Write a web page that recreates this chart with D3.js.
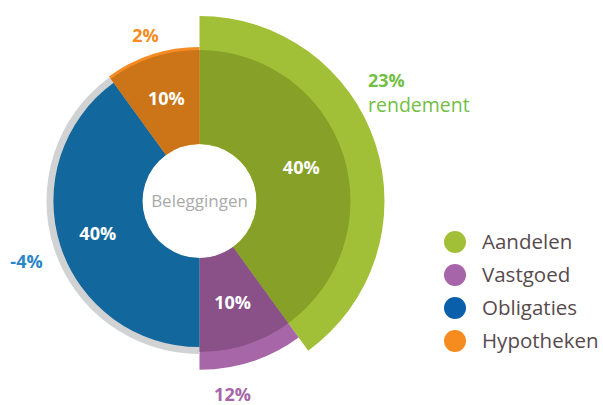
<!DOCTYPE html>
<html>
<head>
<meta charset="utf-8">
<script src="https://cdn.jsdelivr.net/npm/d3@7"></script>
<style>
  body { margin: 0; background: #fff; }
  svg { font-family: "Open Sans", sans-serif; }
</style>
</head>
<body>
<svg id="chart" width="603" height="405"></svg>
<script>
// data
var categories = ["Aandelen", "Vastgoed", "Obligaties", "Hypotheken"];
var shares = [40, 10, 40, 10];      // allocation %
var returns = [23, 12, -4, 2];      // rendement %

var darkColors = ["#87a128", "#8a5189", "#12679c", "#cc7418"];
var lightColors = ["#a2c037", "#a666a7", "#d1d2d4", "#f58b22"];
var legendColors = ["#a2c037", "#a665a8", "#0a5fab", "#f68b1f"];
var labelColors = ["#72bf44", "#a666a7", "#2a86c8", "#f58b22"];

var svg = d3.select("#chart");
var cx = 199.5, cy = 201;
var holeR = 57, baseR = 151;

var rScale = d3.scaleLinear().domain([0, 23]).range([baseR, 185]);

var data = categories.map((c, i) => ({ name: c, share: shares[i], ret: returns[i], i: i }));

var pie = d3.pie().sort(null).value(d => d.share);
var arcs = pie(data);

var g = svg.append("g").attr("transform", `translate(${cx},${cy})`);

// outer (return) rings
g.selectAll("path.outer")
  .data(arcs)
  .enter()
  .append("path")
  .attr("class", "outer")
  .attr("fill", d => lightColors[d.data.i])
  .attr("d", d => d3.arc()
    .innerRadius(holeR)
    .outerRadius(d.data.ret >= 0 ? rScale(d.data.ret) : baseR + 2)(d));

// inner allocation slices
g.selectAll("path.inner")
  .data(arcs)
  .enter()
  .append("path")
  .attr("class", "inner")
  .attr("fill", d => darkColors[d.data.i])
  .attr("d", d => d3.arc()
    .innerRadius(holeR)
    .outerRadius(d.data.ret >= 0 ? baseR : rScale(d.data.ret) + 1)(d));

// share labels
var labelArc = d3.arc().innerRadius(107).outerRadius(107);
g.selectAll("text.share")
  .data(arcs)
  .enter()
  .append("text")
  .attr("class", "share")
  .attr("x", d => labelArc.centroid(d)[0])
  .attr("y", d => labelArc.centroid(d)[1] + 6)
  .attr("text-anchor", "middle")
  .attr("font-size", "18px")
  .attr("font-weight", "bold")
  .attr("fill", "#fff")
  .text(d => d.data.share + "%");

// center label
g.append("text")
  .attr("x", 0)
  .attr("y", 6)
  .attr("text-anchor", "middle")
  .attr("font-size", "17px")
  .attr("fill", "#aaaaaa")
  .text("Beleggingen");

// return labels
var retPos = [[368, 87, "start"], [232.5, 401, "middle"], [26.5, 268, "middle"], [145.5, 42, "middle"]];
data.forEach((d, i) => {
  svg.append("text")
    .attr("x", retPos[i][0])
    .attr("y", retPos[i][1])
    .attr("text-anchor", retPos[i][2])
    .attr("font-size", "18px")
    .attr("font-weight", "bold")
    .attr("fill", labelColors[i])
    .text(d.ret + "%");
});
svg.append("text")
  .attr("x", 368)
  .attr("y", 112)
  .attr("font-size", "19.5px")
  .attr("fill", labelColors[0])
  .text("rendement");

// legend
var legend = svg.selectAll("g.legend")
  .data(categories)
  .enter()
  .append("g")
  .attr("class", "legend")
  .attr("transform", (d, i) => `translate(455, ${242 + i * 33})`);
legend.append("circle")
  .attr("r", 11)
  .attr("fill", (d, i) => legendColors[i]);
legend.append("text")
  .attr("x", 27)
  .attr("y", 7)
  .attr("font-size", "20.5px")
  .attr("fill", "#574a4d")
  .text(d => d);
</script>
</body>
</html>
